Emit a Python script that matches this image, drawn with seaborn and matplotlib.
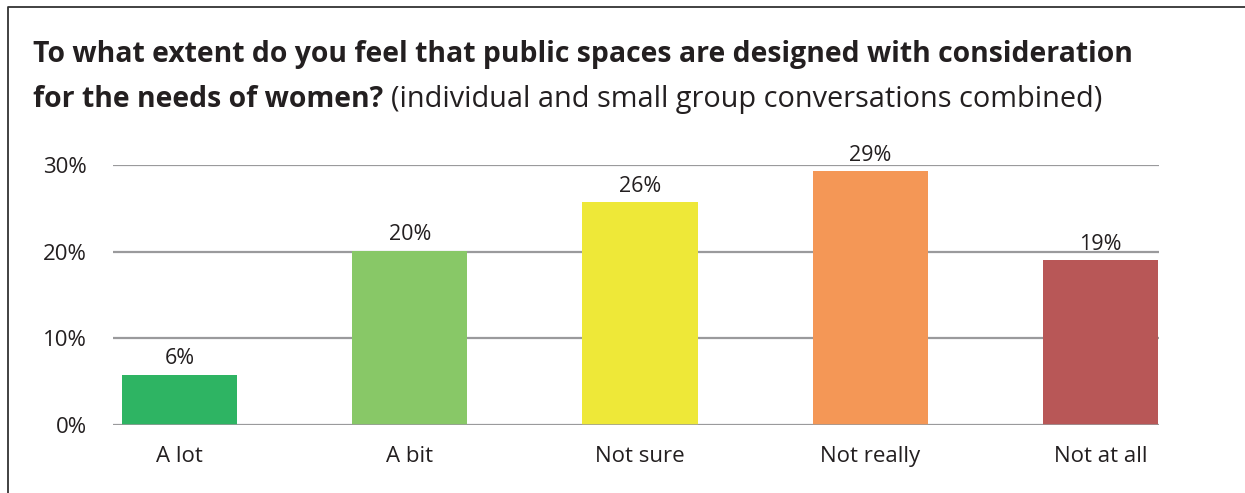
import matplotlib
matplotlib.use("Agg")
import matplotlib.pyplot as plt
from matplotlib.lines import Line2D
import pandas as pd
import seaborn as sns

# Survey responses (share of respondents, %)
categories = ["A lot", "A bit", "Not sure", "Not really", "Not at all"]
shares = [5.8, 20.1, 25.7, 29.3, 19.0]
colors = ["#2EB463", "#88C867", "#EEE838", "#F49756", "#B85757"]
y_ticks = [0, 10, 20, 30]

title_bold_1 = "To what extent do you feel that public spaces are designed with consideration"
title_bold_2 = "for the needs of women?"
title_regular = "(individual and small group conversations combined)"

sns.set_theme(style="white")
plt.rcParams["font.family"] = ["Open Sans", "DejaVu Sans"]
TEXT = "#231F20"
GRID = "#9A9A9C"

W, H = 1245, 493
fig = plt.figure(figsize=(W / 100, H / 100), dpi=100)
fig.patch.set_facecolor("white")

ax = fig.add_axes([113 / W, 1 - 425 / H, (1159 - 113) / W, (425 - 165) / H])

df = pd.DataFrame({"category": categories, "share": shares})
sns.barplot(data=df, x="category", y="share", hue="category",
            palette=colors, order=categories, hue_order=categories,
            legend=False, width=0.5, saturation=1, linewidth=0,
            ax=ax, zorder=2)

ax.set_xlim(-0.29, 4.255)
ax.set_ylim(0, 30)
ax.set_yticks(y_ticks)
ax.set_yticklabels([f"{t}%" for t in y_ticks])
ax.set_xlabel("")
ax.set_ylabel("")
for s in ax.spines.values():
    s.set_visible(False)
ax.yaxis.grid(True, color=GRID, linewidth=1.6, zorder=1)
ax.set_axisbelow(True)
ax.tick_params(axis="y", length=0, pad=19, labelsize=16, labelcolor=TEXT)
ax.tick_params(axis="x", length=0, pad=15, labelsize=16, labelcolor=TEXT)
ax.axhline(0, color=GRID, linewidth=1.8, zorder=3)

for i, v in enumerate(shares):
    ax.annotate(f"{v:.0f}%", xy=(i, v), xytext=(0, 7.5), textcoords="offset points",
                ha="center", va="baseline", fontsize=15.5, color=TEXT, clip_on=False)

# Title block
t1 = fig.text(33 / W, 1 - 62 / H, title_bold_1, fontsize=20.4, fontweight="bold",
              color=TEXT, va="baseline", ha="left")
t2 = fig.text(33 / W, 1 - 107 / H, title_bold_2, fontsize=20.4, fontweight="bold",
              color=TEXT, va="baseline", ha="left")
fig.canvas.draw()
bb = t2.get_window_extent()
fig.text((bb.x1 + 8) / W, 1 - 107 / H, title_regular, fontsize=20.8,
         color=TEXT, va="baseline", ha="left")

# Frame along the top and left edges
fig.add_artist(Line2D([7.5 / W, 7.5 / W, 1.0], [0.0, 1 - 6.5 / H, 1 - 6.5 / H],
                      transform=fig.transFigure, color="#333333", linewidth=1.3))

fig.savefig("out.png", dpi=100, facecolor="white")
